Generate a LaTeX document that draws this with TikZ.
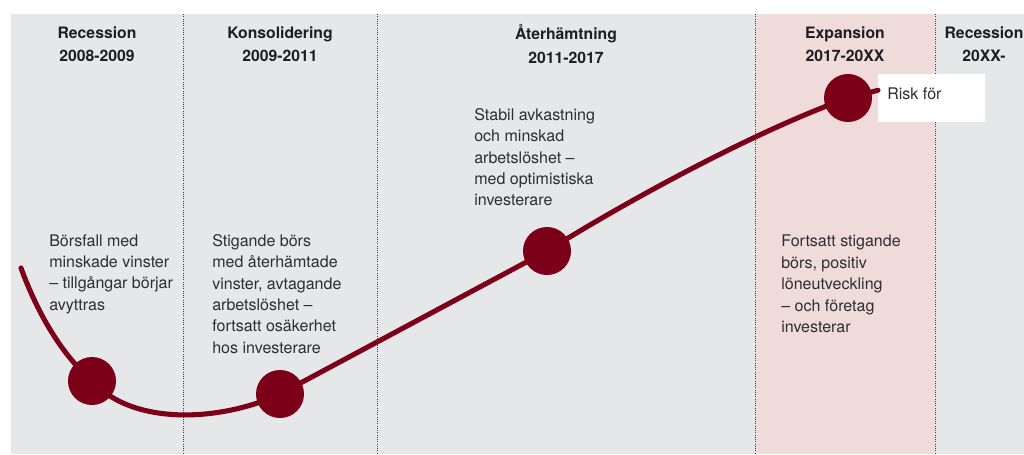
\documentclass[tikz,border=0pt]{standalone}
\usepackage{fontspec}
\setmainfont{TeX Gyre Heros}
\usepackage{tikz}
\usetikzlibrary{calc}
\usepackage{xcolor}
\definecolor{panel_grey}{HTML}{E6E7E9}
\definecolor{band_pink}{HTML}{EFDCDA}
\definecolor{wine_red}{HTML}{7D0019}
\definecolor{text_grey}{HTML}{2E2E2E}

\begin{document}
\begin{tikzpicture}[x=0.025cm, y=-0.025cm,
	phase/.style={font=\fontsize{11.2}{16.4}\selectfont\bfseries, align=center, text=black!88},
	note/.style={font=\fontsize{11.4}{15.2}\selectfont, align=left, anchor=north west, inner sep=0pt, text=text_grey},
	dot/.style={circle, fill=wine_red, minimum size=1.2cm, inner sep=0pt}]
	\useasboundingbox (0,0) rectangle (1024,454);
	\fill[panel_grey] (11,14) rectangle (1024,454);
	\fill[band_pink] (755,14) rectangle (935,454);
	\foreach \x in {183,377,755,935}
		\draw[densely dotted, black!75, line width=0.6pt] (\x,14) -- (\x,454);
	\node[phase] (h1) at (97,44) {Recession\\2008-2009};
	\node[phase] (h2) at (280,44) {Konsolidering\\2009-2011};
	\node[phase] (h3) at (566,44) {Återhämtning\\2011-2017};
	\node[phase] (h4) at (845,44) {Expansion\\2017-20XX};
	\node[phase] (h5) at (984,44) {Recession\\20XX-};
	\node[note] (n1) at (49,234) {Börsfall med\\minskade vinster\\– tillgångar börjar\\avyttras};
	\node[note] (n2) at (212,234) {Stigande börs\\med återhämtade\\vinster, avtagande\\arbetslöshet –\\fortsatt osäkerhet\\hos investerare};
	\node[note] (n3) at (474,108) {Stabil avkastning\\och minskad\\arbetslöshet –\\med optimistiska\\investerare};
	\node[note] (n4) at (781,235) {Fortsatt stigande\\börs, positiv\\löneutveckling\\– och företag\\investerar};
	\node[fill=white, anchor=north west, minimum width=2.675cm, minimum height=1.2cm, inner sep=0pt] (riskbox) at (878,74) {};
	\node[note, anchor=west] (risk) at ($(riskbox.west)+(9,-5)$) {Risk för};
	\coordinate (s) at (21,268);
	\coordinate (p1) at (92,381);
	\coordinate (p2) at (280,394);
	\coordinate (p3) at (547,251);
	\coordinate (p4) at (848,98);
	\coordinate (e) at ($(riskbox.west)+(0,-8)$);
	\draw[wine_red, line width=3.6pt, line cap=round] (s) .. controls (36,309) and (59,352) .. (p1)
		.. controls (135,428) and (225,420) .. (p2) -- (p3)
		.. controls (632,198) and (758,130) .. (p4) -- (e);
	\node[dot] (d1) at (p1) {};
	\node[dot] (d2) at (p2) {};
	\node[dot] (d3) at (p3) {};
	\node[dot] (d4) at (p4) {};
\end{tikzpicture}
\end{document}
